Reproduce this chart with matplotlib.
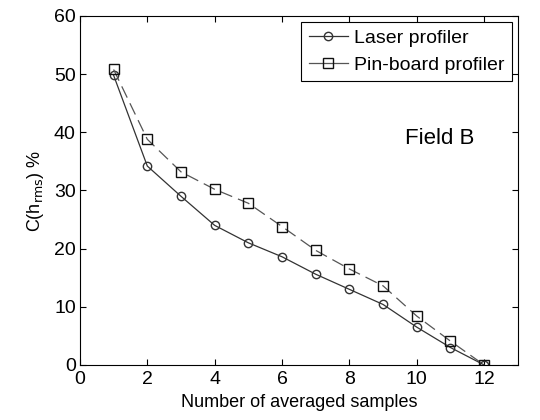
import matplotlib
matplotlib.use("Agg")
import matplotlib.pyplot as plt

plt.rcParams['font.family'] = ['Liberation Sans', 'DejaVu Sans']

samples = [1, 2, 3, 4, 5, 6, 7, 8, 9, 10, 11, 12]
laser = [49.8, 34.2, 29.0, 24.0, 21.0, 18.6, 15.6, 13.0, 10.4, 6.5, 3.0, 0.0]
pinboard = [50.8, 38.8, 33.2, 30.2, 27.8, 23.8, 19.7, 16.5, 13.6, 8.4, 4.1, 0.0]

fig = plt.figure(figsize=(5.4, 4.2), dpi=100)
ax = fig.add_axes([0.148, 0.131, 0.811, 0.831])

ax.plot(samples, laser, color='#333333', linewidth=0.9, marker='o',
        markersize=6, markerfacecolor='none', markeredgecolor='#333333',
        label='Laser profiler')
ax.plot(samples, pinboard, color='#555555', linewidth=0.9, linestyle=(0, (10, 5)),
        marker='s', markersize=7, markerfacecolor='none', markeredgecolor='#111111',
        label='Pin-board profiler')

ax.set_xlim(0, 13)
ax.set_ylim(0, 60)
ax.set_xticks([0, 2, 4, 6, 8, 10, 12])
ax.set_yticks([0, 10, 20, 30, 40, 50, 60])
ax.tick_params(direction='in', top=True, right=True, labelsize=14, length=4)
ax.tick_params(axis='x', pad=4)
ax.tick_params(axis='y', pad=3)
ax.set_xlabel('Number of averaged samples', fontsize=13, labelpad=5)
ax.set_ylabel(r'C(h$_{\rm rms}$) %', fontsize=13, labelpad=6)

ax.text(11.7, 39, 'Field B', fontsize=16, ha='right', va='center')

leg = ax.legend(loc='upper right', fontsize=14, fancybox=False, framealpha=1,
                edgecolor='black', handlelength=2.0, handletextpad=0.3,
                borderaxespad=0.3, borderpad=0.4, labelspacing=0.45)
leg.get_frame().set_linewidth(0.8)
for h in leg.legend_handles:
    h.set_linestyle('-')

fig.savefig('out.png', dpi=100)
